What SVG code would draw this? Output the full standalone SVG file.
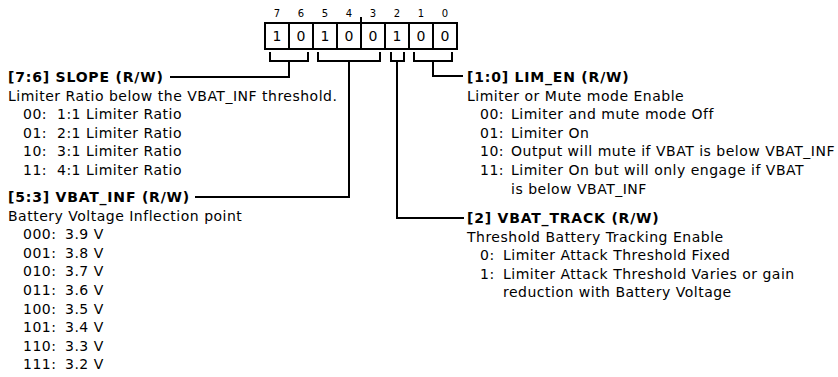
<svg xmlns="http://www.w3.org/2000/svg" width="838" height="377" viewBox="0 0 838 377">
<style>
text{font-family:"DejaVu Sans","Verdana",sans-serif;fill:#000}
.t{font-size:14px;letter-spacing:0.5px}
.b{font-size:14px;font-weight:bold;letter-spacing:0.8px}
.bit{font-size:10px;text-anchor:middle}
.val{font-size:14px;text-anchor:middle}
.ln{fill:none;stroke:#000;stroke-width:2}
</style>
<rect width="838" height="377" fill="#fff"/>
<g id="register">
  <rect class="ln" x="265" y="23" width="192" height="26"/>
  <path class="ln" d="M289 23V49M313 23V49M337 23V49M361 17V49M385 23V49M409 23V49M433 23V49"/>
  <text class="bit" x="277" y="17">7</text>
  <text class="bit" x="301" y="17">6</text>
  <text class="bit" x="325" y="17">5</text>
  <text class="bit" x="349" y="17">4</text>
  <text class="bit" x="373" y="17">3</text>
  <text class="bit" x="397" y="17">2</text>
  <text class="bit" x="421" y="17">1</text>
  <text class="bit" x="445" y="17">0</text>
  <text class="val" x="277" y="41">1</text>
  <text class="val" x="301" y="41">0</text>
  <text class="val" x="325" y="41">1</text>
  <text class="val" x="349" y="41">0</text>
  <text class="val" x="373" y="41">0</text>
  <text class="val" x="397" y="41">1</text>
  <text class="val" x="421" y="41">0</text>
  <text class="val" x="445" y="41">0</text>
</g>
<g id="connectors">
  <path class="ln" d="M270 52V61H308V52M289 61V77H170"/>
  <path class="ln" d="M318 52V61H380V52M349 61V197H195"/>
  <path class="ln" d="M391 52V61H404V52M397 61V218H464"/>
  <path class="ln" d="M414 52V61H452V52M433 61V76H463"/>
</g>
<g id="slope">
  <text class="b" x="8" y="82">[7:6] SLOPE (R/W)</text>
  <text class="t" x="8" y="100.6">Limiter Ratio below the VBAT_INF threshold.</text>
  <text class="t" x="23" y="119.2">00:</text><text class="t" x="57" y="119.2">1:1 Limiter Ratio</text>
  <text class="t" x="23" y="137.8">01:</text><text class="t" x="57" y="137.8">2:1 Limiter Ratio</text>
  <text class="t" x="23" y="156.4">10:</text><text class="t" x="57" y="156.4">3:1 Limiter Ratio</text>
  <text class="t" x="23" y="175">11:</text><text class="t" x="57" y="175">4:1 Limiter Ratio</text>
</g>
<g id="vbat_inf">
  <text class="b" x="8" y="202">[5:3] VBAT_INF (R/W)</text>
  <text class="t" x="8" y="220.6">Battery Voltage Inflection point</text>
  <text class="t" x="23" y="239.2">000:</text><text class="t" x="65" y="239.2">3.9 V</text>
  <text class="t" x="23" y="257.8">001:</text><text class="t" x="65" y="257.8">3.8 V</text>
  <text class="t" x="23" y="276.4">010:</text><text class="t" x="65" y="276.4">3.7 V</text>
  <text class="t" x="23" y="295">011:</text><text class="t" x="65" y="295">3.6 V</text>
  <text class="t" x="23" y="313.6">100:</text><text class="t" x="65" y="313.6">3.5 V</text>
  <text class="t" x="23" y="332.2">101:</text><text class="t" x="65" y="332.2">3.4 V</text>
  <text class="t" x="23" y="350.8">110:</text><text class="t" x="65" y="350.8">3.3 V</text>
  <text class="t" x="23" y="369.4">111:</text><text class="t" x="65" y="369.4">3.2 V</text>
</g>
<g id="lim_en">
  <text class="b" x="467" y="82">[1:0] LIM_EN (R/W)</text>
  <text class="t" x="467" y="100.6">Limiter or Mute mode Enable</text>
  <text class="t" x="480" y="119.2">00:</text><text class="t" x="511" y="119.2">Limiter and mute mode Off</text>
  <text class="t" x="480" y="137.8">01:</text><text class="t" x="511" y="137.8">Limiter On</text>
  <text class="t" x="480" y="156.4">10:</text><text class="t" x="511" y="156.4">Output will mute if VBAT is below VBAT_INF</text>
  <text class="t" x="480" y="175">11:</text><text class="t" x="511" y="175">Limiter On but will only engage if VBAT</text>
  <text class="t" x="511" y="193.6">is below VBAT_INF</text>
</g>
<g id="vbat_track">
  <text class="b" x="467" y="223">[2] VBAT_TRACK (R/W)</text>
  <text class="t" x="467" y="241.6">Threshold Battery Tracking Enable</text>
  <text class="t" x="480" y="260.2">0:</text><text class="t" x="503" y="260.2">Limiter Attack Threshold Fixed</text>
  <text class="t" x="480" y="278.8">1:</text><text class="t" x="503" y="278.8">Limiter Attack Threshold Varies or gain</text>
  <text class="t" x="503" y="297.4">reduction with Battery Voltage</text>
</g>
</svg>
